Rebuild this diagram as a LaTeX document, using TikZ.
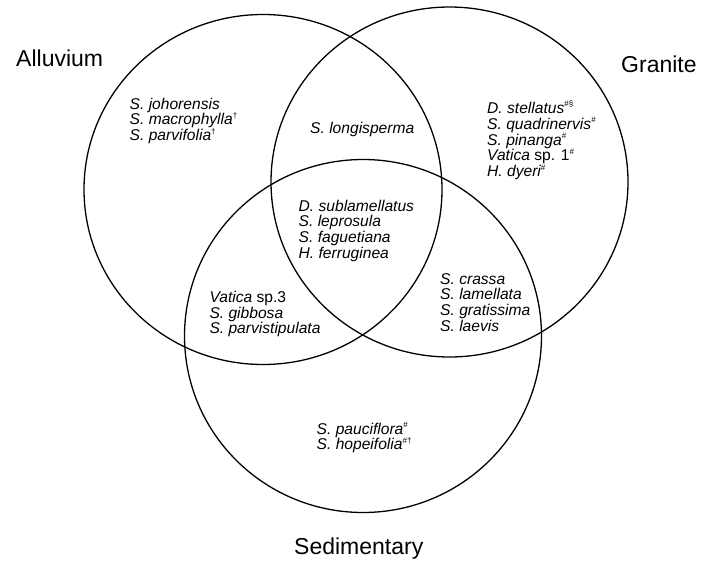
\documentclass[tikz,border=0pt]{standalone}
\usepackage{fontspec}
\setmainfont{Liberation Sans}
\usepackage{tikz}

\newcommand{\fnmk}[1]{\raisebox{.8ex}{\fontsize{8}{8}\selectfont\upshape#1}}

\begin{document}
\begin{tikzpicture}[x=1pt, y=-1pt,
    soil/.style={line width=1.3pt},
    taxon/.style={anchor=base west, inner sep=0pt,
      font=\fontsize{15.6}{15.8}\selectfont\itshape},
    soilname/.style={anchor=base west, inner sep=0pt,
      font=\fontsize{23}{23}\selectfont}]
  \useasboundingbox (0,0) rectangle (701,562);
  % three soil types
  \draw[soil] (263,189.5) ellipse (179pt and 175pt);
  \draw[soil] (449.5,182) ellipse (178.5pt and 175pt);
  \draw[soil] (363,336) ellipse (178.5pt and 176.5pt);
  \node[soilname] (alluvium) at (16,66.5) {Alluvium};
  \node[soilname] (granite) at (621,72.5) {Granite};
  \node[soilname] (sedimentary) at (294,554) {Sedimentary};
  % alluvium only
  \foreach \sp [count=\i] in {S. johorensis, S. macrophylla\fnmk{\dag},
      S. parvifolia\fnmk{\dag}}{
    \node[taxon] (alluv\i) at (129.5,{109+15.8*(\i-1)}) {\sp};
  }
  % granite only
  \foreach \sp [count=\i] in {D. stellatus\fnmk{\#\S}, S. quadrinervis\fnmk{\#},
      S. pinanga\fnmk{\#}, Vatica \textup{sp. 1}\fnmk{\#}, H. dyeri\fnmk{\#}}{
    \node[taxon] (gran\i) at (487,{113.5+15.8*(\i-1)}) {\sp};
  }
  % alluvium and granite
  \node[taxon] (algr) at (310,133) {S. longisperma};
  % all three soils
  \foreach \sp [count=\i] in {D. sublamellatus, S. leprosula,
      S. faguetiana, H. ferruginea}{
    \node[taxon] (all\i) at (298.5,{211+15.8*(\i-1)}) {\sp};
  }
  % granite and sedimentary
  \foreach \sp [count=\i] in {S. crassa, S. lamellata,
      S. gratissima, S. laevis}{
    \node[taxon] (grsd\i) at (440,{284+15.8*(\i-1)}) {\sp};
  }
  % alluvium and sedimentary
  \foreach \sp [count=\i] in {Vatica \textup{sp.3}, S. gibbosa,
      S. parvistipulata}{
    \node[taxon] (alsd\i) at (209.3,{302.3+15.8*(\i-1)}) {\sp};
  }
  % sedimentary only
  \foreach \sp [count=\i] in {S. pauciflora\fnmk{\#},
      S. hopeifolia\fnmk{\#\dag}}{
    \node[taxon] (sedi\i) at (316.5,{434+15.8*(\i-1)}) {\sp};
  }
\end{tikzpicture}
\end{document}
